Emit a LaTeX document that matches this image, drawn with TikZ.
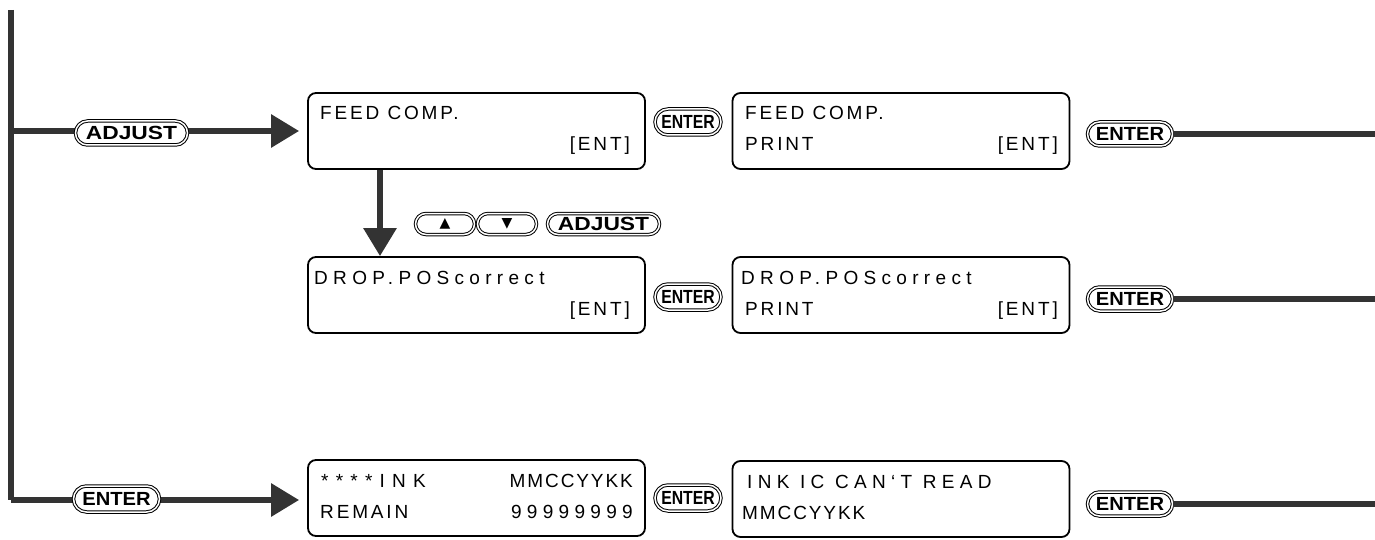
\documentclass[tikz,border=0pt]{standalone}
\usepackage{fontspec}
\setmainfont{Liberation Sans}
\newfontfamily\lcdfont[LetterSpace=15]{Liberation Sans}
\newfontfamily\lcdwide[LetterSpace=28]{Liberation Sans}
\newfontfamily\lcdwider[LetterSpace=38]{Liberation Sans}
\newfontfamily\lcdtight[LetterSpace=10]{Liberation Sans}
\newfontfamily\symfont{DejaVu Sans}
\usetikzlibrary{arrows.meta,shapes.misc}
\definecolor{linegrey}{HTML}{333333}
\tikzset{
  lcdbox/.style={draw=black, line width=1.8pt, rounded corners=8pt, minimum width=337pt, minimum height=76pt, inner sep=0pt},
  lcdtext/.style={font=\lcdfont\fontsize{19}{19}\selectfont, inner sep=0pt},
  conn/.style={draw=linegrey, line width=6pt},
  connarrow/.style={conn, -{Triangle[length=28pt,width=32pt]}},
  keybtn/.style={rounded rectangle, draw=black, fill=white, line width=1pt, double=white, double distance=1.5pt, inner sep=0pt, font=\bfseries\fontsize{19}{19}\selectfont},
}
\newcommand{\kscale}[2]{\scalebox{#1}[1]{#2}}
\begin{document}
\begin{tikzpicture}[x=1pt,y=-1pt]
\useasboundingbox (0,0) rectangle (1375,540);
% LCD boxes
\node[lcdbox] (b1) at (476.5,131) {};
\node[lcdbox] (b2) at (901,131) {};
\node[lcdbox] (b3) at (476.5,295) {};
\node[lcdbox] (b4) at (901,295) {};
\node[lcdbox] (b5) at (476.5,498) {};
\node[lcdbox] (b6) at (901,499) {};
% texts
\node[lcdtext, anchor=base west] (t1a) at (320,120) {FEED COMP.};
\node[lcdtext, anchor=base east] (t1b) at (630,151) {[ENT]};
\node[lcdtext, anchor=base west] (t2a) at (745,120) {FEED COMP.};
\node[lcdtext, anchor=base west] (t2b) at (745,151) {PRINT};
\node[lcdtext, anchor=base east] (t2c) at (1058,151) {[ENT]};
\node[lcdtext, anchor=base west, font=\lcdwide\fontsize{19}{19}\selectfont] (t3a) at (314,284) {DROP.POScorrect};
\node[lcdtext, anchor=base east] (t3b) at (630,315) {[ENT]};
\node[lcdtext, anchor=base west, font=\lcdwide\fontsize{19}{19}\selectfont] (t4a) at (741,284) {DROP.POScorrect};
\node[lcdtext, anchor=base west] (t4b) at (745,315) {PRINT};
\node[lcdtext, anchor=base east] (t4c) at (1058,315) {[ENT]};
\node[lcdtext, anchor=base west, font=\lcdwider\fontsize{19}{19}\selectfont] (t5a) at (321,487) {****INK};
\node[lcdtext, anchor=base east, font=\lcdtight\fontsize{19}{19}\selectfont] (t5b) at (633,487) {MMCCYYKK};
\node[lcdtext, anchor=base west] (t5c) at (320,518) {REMAIN};
\node[lcdtext, anchor=base east, font=\lcdwide\fontsize{19}{19}\selectfont] (t5d) at (633,518) {99999999};
\node[lcdtext, anchor=base west, font=\lcdwide\fontsize{19}{19}\selectfont] (t6a) at (747,488) {INK IC CAN‘T READ};
\node[lcdtext, anchor=base west, font=\lcdtight\fontsize{19}{19}\selectfont] (t6b) at (742,519) {MMCCYYKK};
% coordinates
\coordinate (top) at (11,10);
\coordinate (j1) at (11,131);
\coordinate (j3) at (11,500);
\coordinate (vx) at (380,0);
\coordinate (e1) at (1375,134);
\coordinate (e2) at (1375,299);
\coordinate (e3) at (1375,504);
% connectors
\draw[conn] (top) -- (j3);
\draw[connarrow, shorten >=8pt] (j1) -- (b1.west);
\draw[connarrow, shorten >=8pt] (j3) -- (j3 -| b5.west);
\draw[connarrow] (b1.south -| vx) -- (b3.north -| vx);
% buttons
\node[keybtn, minimum width=112pt, minimum height=24pt] (k1) at (131.5,133) {\kscale{1.2}{ADJUST}};
\node[keybtn, minimum width=86pt, minimum height=26pt] (k2) at (116.5,499) {\kscale{1.06}{ENTER}};
\node[keybtn, minimum width=66pt, minimum height=26pt] (m1) at (688,122) {\kscale{0.83}{ENTER}};
\node[keybtn, minimum width=66pt, minimum height=26pt] (m2) at (688,297) {\kscale{0.83}{ENTER}};
\node[keybtn, minimum width=66pt, minimum height=26pt] (m3) at (688,498) {\kscale{0.83}{ENTER}};
\node[keybtn, minimum width=85pt, minimum height=24pt] (r1) at (1130,134) {\kscale{1.06}{ENTER}};
\node[keybtn, minimum width=85pt, minimum height=24pt] (r2) at (1130,299) {\kscale{1.06}{ENTER}};
\node[keybtn, minimum width=85pt, minimum height=24pt] (r3) at (1130,504) {\kscale{1.06}{ENTER}};
\node[keybtn, minimum width=59pt, minimum height=21pt, font=\symfont\fontsize{14}{14}\selectfont] (up) at (445,224) {▲};
\node[keybtn, minimum width=59pt, minimum height=21pt, font=\symfont\fontsize{14}{14}\selectfont] (dn) at (507,224) {▼};
\node[keybtn, minimum width=112pt, minimum height=21pt] (k3) at (603.5,224) {\kscale{1.2}{ADJUST}};
% right-side lines
\draw[conn] (r1.east) -- (e1);
\draw[conn] (r2.east) -- (e2);
\draw[conn] (r3.east) -- (e3);
\end{tikzpicture}
\end{document}
